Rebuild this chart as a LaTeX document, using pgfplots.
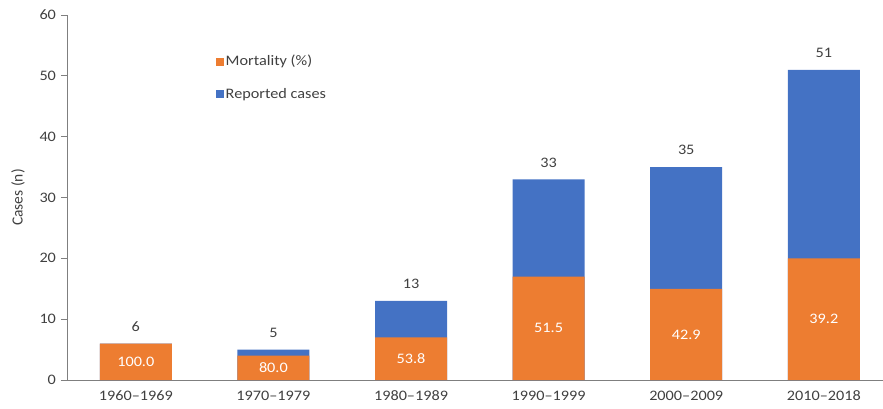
\documentclass[border=0pt]{standalone}
\usepackage{fontspec}
\setmainfont{Carlito}[FakeStretch=1.12]
\newfontfamily\plainfont{Carlito}
\usepackage{pgfplots}
\usepackage{pgfplotstable}
\pgfplotsset{compat=1.18}
\definecolor{morange}{HTML}{ED7D31}
\definecolor{mblue}{HTML}{4472C4}
\definecolor{txt}{HTML}{404040}
\definecolor{axgray}{HTML}{7F7F7F}
\pgfplotstableread{
x orange total pct ly
0 6 6 100.0 3
1 4 5 80.0 2
2 7 13 53.8 3.5
3 17 33 51.5 8.5
4 15 35 42.9 7.5
5 20 51 39.2 10
}\datatab
\begin{document}
\fontsize{14.5}{17}\selectfont
\begin{tikzpicture}
\path[use as bounding box] (0,0) rectangle (883pt,408pt);
\begin{axis}[
  at={(67pt,28pt)}, anchor=south west,
  scale only axis, width=816pt, height=365pt,
  font=\fontsize{14.5}{17}\selectfont,
  xmin=-0.5, xmax=5.43, ymin=0, ymax=60,
  ytick={0,10,...,60},
  xtick={0,...,5},
  xticklabels={1960–1969,1970–1979,1980–1989,1990–1999,2000–2009,2010–2018},
  axis x line*=bottom, axis y line*=left,
  axis line style={axgray, line width=0.9pt},
  xtick style={draw=none},
  ytick style={axgray, line width=0.9pt},
  tick align=outside, major tick length=6pt,
  ticklabel style={text=txt},
  /pgf/number format/assume math mode=true,
  ylabel={\plainfont\fontsize{15.5}{18}\selectfont Cases (n)},
  ylabel style={at={(axis description cs:-0.06,0.5)}, anchor=center, text=txt},
  ybar, bar width=72pt, bar shift=0pt,
  reverse legend,
  legend style={at={(0.182,0.896)}, anchor=north west, draw=none, fill=none,
    inner sep=0pt, row sep=16pt, text=txt,
    nodes={inner sep=2pt, anchor=west}},
  legend image code/.code={\fill (-5pt,-4pt) rectangle (3pt,4pt);},
  clip=false,
]
\addplot[fill=mblue, draw=none, nodes near coords,
  nodes near coords style={anchor=south, yshift=7pt, text=txt}]
  table[x=x, y=total] {\datatab};
\addlegendentry{Reported cases}
\addplot[fill=morange, draw=none] table[x=x, y=orange] {\datatab};
\addlegendentry{Mortality (\%)}
\addplot[forget plot, draw=none, mark=none, sharp plot, nodes near coords,
  point meta=explicit symbolic,
  nodes near coords style={anchor=center, text=white}]
  table[x=x, y=ly, meta=pct] {\datatab};
\end{axis}
\end{tikzpicture}
\end{document}
